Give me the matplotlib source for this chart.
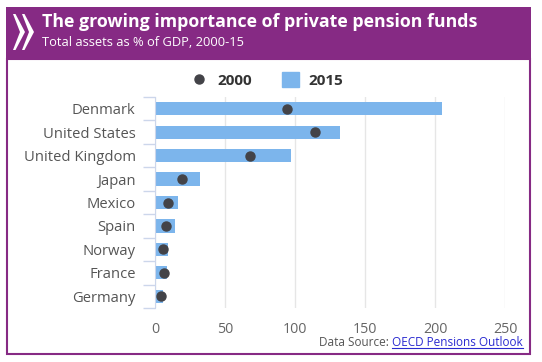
import matplotlib
matplotlib.use('Agg')
import matplotlib.pyplot as plt
from matplotlib.patches import Rectangle, Polygon, Patch
from matplotlib.lines import Line2D

# data
countries = ['Denmark', 'United States', 'United Kingdom', 'Japan', 'Mexico',
             'Spain', 'Norway', 'France', 'Germany']
assets_2015 = [205, 132, 97, 32, 16.5, 14, 9.5, 8.5, 6]
assets_2000 = [94, 114, 68, 19, 9.5, 8, 6, 6.5, 4.3]
xticks = [0, 50, 100, 150, 200, 250]

W, H = 542, 362
PURPLE = '#862a84'
plt.rcParams['font.family'] = ['Open Sans', 'DejaVu Sans']

fig = plt.figure(figsize=(W / 100, H / 100), dpi=100)


def fx(x):
    return x / W


def fy(y):
    return 1 - y / H


# header band and framed panel (behind the axes)
fig.add_artist(Rectangle((fx(6), fy(59)), fx(531) - fx(6), (59 - 7) / H,
                         transform=fig.transFigure, color=PURPLE, lw=0,
                         zorder=-2))
fig.add_artist(Rectangle((fx(7), fy(354)), fx(530) - fx(7), (354 - 59) / H,
                         transform=fig.transFigure, facecolor='white',
                         edgecolor=PURPLE, lw=1.5, zorder=-1))

# OECD chevrons
for dx in (0, 9):
    pts = [(13 + dx, 14), (15.5 + dx, 14), (25 + dx, 32), (15.5 + dx, 50),
           (13 + dx, 50), (20 + dx, 32)]
    fig.add_artist(Polygon([(fx(a), fy(b)) for a, b in pts], closed=True,
                           transform=fig.transFigure, color='white', lw=0))

fig.text(fx(42), fy(22), 'The growing importance of private pension funds',
         color='white', fontsize=12.8, fontweight='bold', va='center')
fig.text(fx(42), fy(43), 'Total assets as % of GDP, 2000-15',
         color='white', fontsize=9.3, va='center')

# plot area
ax = fig.add_axes([fx(155), fy(308), fx(505) - fx(155), (308 - 97) / H])
ax.patch.set_alpha(0)
ypos = list(range(len(countries)))
ax.barh(ypos, assets_2015, height=0.56, color='#7cb5ec', zorder=2)
ax.plot(assets_2000, ypos, 'o', color='#434348', ms=6.5, zorder=3)

ax.set_xlim(0, 250)
ax.set_ylim(len(countries) - 0.5, -0.5)
ax.set_xticks(xticks)
ax.set_yticks(ypos, countries)
ax.set_yticks([i - 0.5 for i in range(len(countries) + 1)], minor=True)
ax.tick_params(axis='y', which='major', length=0, pad=14, labelsize=10.6,
               labelcolor='#555555')
ax.tick_params(axis='y', which='minor', length=9, color='#ccd6eb', width=1)
ax.tick_params(axis='x', length=0, pad=10, labelsize=10.3, labelcolor='#666666')
ax.grid(axis='x', color='#e6e6e6', lw=1, zorder=0)
for s in ('top', 'right', 'bottom'):
    ax.spines[s].set_visible(False)
ax.spines['left'].set_color('#ccd6eb')
ax.spines['left'].set_zorder(4)

# legend
handles = [Line2D([], [], marker='o', ls='', color='#434348', ms=6.5),
           Patch(color='#7cb5ec')]
leg = fig.legend(handles, ['2000', '2015'], ncol=2, frameon=False,
                 loc='center', bbox_to_anchor=(fx(267), fy(80)),
                 handlelength=1.1, handleheight=1.1, handletextpad=0.6,
                 columnspacing=2.0, prop={'weight': 'bold', 'size': 11})
for t in leg.get_texts():
    t.set_color('#333333')

# source line with underlined link
link = fig.text(fx(523), fy(342), 'OECD Pensions Outlook', color='#2a2ad0',
                fontsize=8.5, ha='right', va='center')
fig.canvas.draw()
bb = link.get_window_extent()
fig.text(bb.x0 / W, fy(342), 'Data Source: ', color='#555555',
         fontsize=8.5, ha='right', va='center')
fig.add_artist(Line2D([bb.x0 / W, bb.x1 / W], [(bb.y0 + 1) / H] * 2,
                      transform=fig.transFigure, color='#2a2ad0', lw=0.8))

fig.savefig('out.png', dpi=100)
